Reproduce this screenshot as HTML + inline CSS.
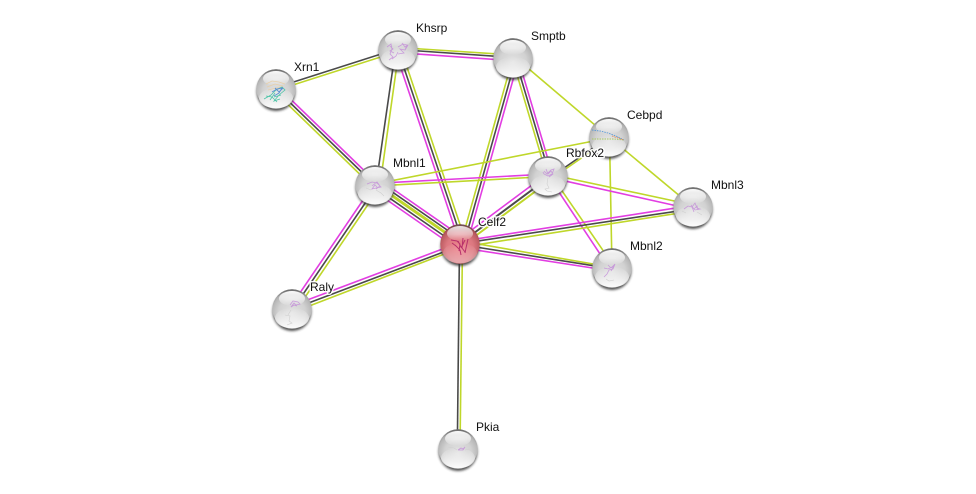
<!DOCTYPE html>
<html><head><meta charset="utf-8"><style>
html,body{margin:0;padding:0;background:#fff}
svg{display:block}
.m{stroke:#e23ee2}.k{stroke:#4a4a4a}.g{stroke:#bfd72a}
line{stroke-width:1.6;fill:none}
text{font:12px "Liberation Sans",sans-serif;fill:#111;stroke:#fff;stroke-width:3px;stroke-opacity:.9;paint-order:stroke;stroke-linejoin:round}
.s{fill:none;stroke:#c084d8;stroke-width:.8;opacity:.75}
.t{fill:none;stroke:#cfcfcf;stroke-width:.6}
</style></head><body>
<svg width="976" height="494" viewBox="0 0 976 494" xmlns="http://www.w3.org/2000/svg">
<defs>
<radialGradient id="b" cx="50%" cy="60%" r="62%"><stop offset="0" stop-color="#e2e2e2"/><stop offset=".55" stop-color="#d2d2d2"/><stop offset=".82" stop-color="#b8b8b8"/><stop offset="1" stop-color="#8a8a8a"/></radialGradient>
<radialGradient id="r" cx="50%" cy="60%" r="62%"><stop offset="0" stop-color="#ee868e"/><stop offset=".55" stop-color="#dc7880"/><stop offset=".82" stop-color="#bc5c62"/><stop offset="1" stop-color="#8c3a3e"/></radialGradient>
<linearGradient id="top" x1="0" y1="0" x2="0" y2="1"><stop offset="0" stop-color="#555" stop-opacity=".7"/><stop offset=".2" stop-color="#555" stop-opacity="0"/></linearGradient>
<linearGradient id="h" x1="0" y1="0" x2="0" y2="1"><stop offset="0" stop-color="#fff" stop-opacity=".98"/><stop offset=".55" stop-color="#fff" stop-opacity=".6"/><stop offset="1" stop-color="#fff" stop-opacity="0"/></linearGradient>
<linearGradient id="l" x1="0" y1="0" x2="0" y2="1"><stop offset="0" stop-color="#fff" stop-opacity="0"/><stop offset="1" stop-color="#fff" stop-opacity=".95"/></linearGradient>
<filter id="f" x="-30%" y="-30%" width="160%" height="160%"><feGaussianBlur stdDeviation="1.2"/></filter>
<g id="n"><circle cy="2.6" r="19.4" fill="#333" opacity=".85" filter="url(#f)"/><circle r="19.7" fill="url(#b)"/><circle r="19.7" fill="url(#top)"/><ellipse cy="9" rx="17" ry="10.2" fill="url(#l)"/><ellipse cy="-10.5" rx="13" ry="7.5" fill="url(#h)"/></g>
<g id="c"><circle cy="2.6" r="19.4" fill="#333" opacity=".85" filter="url(#f)"/><circle r="19.7" fill="url(#r)"/><circle r="19.7" fill="url(#top)"/><ellipse cy="9" rx="17" ry="10.2" fill="url(#l)" opacity=".4"/><ellipse cy="-10.5" rx="13" ry="7.5" fill="url(#h)" opacity=".85"/></g>
</defs>
<rect width="976" height="494" fill="#fff"/>
<!-- Xrn1-Khsrp -->
<line class="k" x1="275.6" y1="87.7" x2="397.6" y2="48.7"/><line class="g" x1="276.4" y1="90.3" x2="398.4" y2="51.3"/>
<!-- Xrn1-Mbnl1 -->
<line class="m" x1="278" y1="87" x2="377" y2="183"/><line class="k" x1="276" y1="89" x2="375" y2="185"/><line class="g" x1="274" y1="91" x2="373" y2="187"/>
<!-- Khsrp-Smptb -->
<line class="g" x1="398" y1="47.5" x2="513" y2="55"/><line class="k" x1="398" y1="49.5" x2="513" y2="57.5"/><line class="m" x1="398" y1="52.7" x2="513" y2="60.7"/>
<!-- Khsrp-Mbnl1 -->
<line class="k" x1="395.5" y1="50" x2="376" y2="185"/><line class="g" x1="399" y1="50" x2="380" y2="185"/>
<!-- Khsrp-Celf2 -->
<line class="m" x1="395.1" y1="51" x2="459.1" y2="241"/><line class="k" x1="398" y1="50" x2="462" y2="240"/><line class="g" x1="400.9" y1="49" x2="464.9" y2="239"/>
<!-- Smptb-Celf2 -->
<line class="g" x1="513.1" y1="57.2" x2="462.1" y2="239.2"/><line class="k" x1="516" y1="58" x2="465" y2="240"/><line class="m" x1="518.9" y1="58.8" x2="467.9" y2="240.8"/>
<!-- Smptb-Rbfox2 -->
<line class="g" x1="512.3" y1="58.8" x2="547.3" y2="176.8"/><line class="k" x1="515" y1="58" x2="550" y2="176"/><line class="m" x1="517.7" y1="57.2" x2="552.7" y2="175.2"/>
<!-- Cebpd edges -->
<line class="g" x1="516" y1="58" x2="609" y2="137"/><line class="g" x1="375" y1="184" x2="609" y2="138"/><line class="g" x1="609" y1="137" x2="693" y2="207"/><line class="g" x1="609.5" y1="137" x2="612" y2="268"/>
<!-- Rbfox2-Mbnl1 -->
<line class="m" x1="375" y1="183.4" x2="548" y2="174"/><line class="g" x1="375" y1="186" x2="548" y2="176.5"/>
<!-- Rbfox2-Mbnl3 -->
<line class="g" x1="548" y1="174" x2="693" y2="205"/><line class="m" x1="548" y1="177.2" x2="693" y2="209.5"/>
<!-- Rbfox2-Mbnl2 -->
<line class="m" x1="548" y1="175.6" x2="612" y2="272"/><line class="g" x1="548" y1="170.4" x2="612" y2="263.5"/>
<!-- Rbfox2-Cebpd -->
<line class="k" x1="548" y1="179" x2="609" y2="137"/><line class="g" x1="551" y1="179" x2="612" y2="137"/>
<!-- Rbfox2-Celf2 -->
<line class="m" x1="545.5" y1="175" x2="459.5" y2="239"/><line class="k" x1="548" y1="178" x2="462" y2="242" style="stroke-width:2"/><line class="g" x1="550" y1="180.5" x2="464" y2="244.5" style="stroke-width:2"/>
<!-- Celf2-Mbnl3 -->
<line class="m" x1="460" y1="241.4" x2="693" y2="205.3"/><line class="k" x1="460" y1="243.7" x2="693" y2="208.8"/><line class="g" x1="460" y1="247.4" x2="693" y2="210.9"/>
<!-- Celf2-Mbnl2 -->
<line class="g" x1="460" y1="240.8" x2="612" y2="267.3"/><line class="k" x1="460" y1="244.5" x2="612" y2="268.7"/><line class="m" x1="460" y1="247.6" x2="612" y2="271"/>
<!-- Celf2-Raly -->
<line class="m" x1="460" y1="242.4" x2="292" y2="305.8"/><line class="k" x1="460" y1="245.8" x2="292" y2="309.2"/><line class="g" x1="460" y1="248" x2="292" y2="312.6"/>
<!-- Mbnl1-Raly -->
<line class="m" x1="373.3" y1="185" x2="289" y2="309"/><line class="k" x1="377.5" y1="185" x2="293" y2="309"/><line class="g" x1="381.3" y1="185" x2="297" y2="309"/>
<!-- Pkia -->
<line class="k" x1="459.5" y1="244" x2="457.3" y2="449"/><line class="g" x1="462.5" y1="244" x2="460" y2="449"/>
<!-- Mbnl1-Celf2 -->
<line class="m" x1="379" y1="179.3" x2="464" y2="238.3"/><line class="k" x1="377.4" y1="181.6" x2="462.4" y2="240.6"/><line class="g" x1="375.6" y1="184.2" x2="460.6" y2="243.2" style="stroke-width:3"/><line class="k" x1="373.6" y1="187" x2="458.6" y2="246"/><line class="m" x1="371.9" y1="189.5" x2="456.9" y2="248.5"/>

<!-- Nodes -->
<use href="#n" x="276" y="89"/>
<path d="M266 84l6-3 7 1 6 2M267 87l8-3 8 2M268 90l8-2 7-1" fill="none" stroke="#e8cfa8" stroke-width=".8"/>
<path d="M264 99l7-4 5-5 6-3 3 3-6 5-5 6 6-2M270 100l5-7M266 96l6 1 5 5M274 97l7-2" fill="none" stroke="#4fc4a8" stroke-width=".8"/>
<path d="M272 92l5-3 5-1-3 5-5 3M275 88l4 4 4-4" fill="none" stroke="#5a8fd0" stroke-width=".9"/>

<use href="#n" x="398" y="50"/>
<path class="s" d="M387 47l4-3 1 5-2 5 3 3-4 3M398 47l5-3 4 1-2 5-5-1 4 4-6 1M392 59l4-3 2-4M390 46l3 3-3 2 4 2M402 43l3 4 3-2-3 5" />

<use href="#n" x="513" y="58"/>

<use href="#n" x="609" y="137"/>
<path d="M592 130l8 1 8 2 8 3 8 4" fill="none" stroke="#5a9ad8" stroke-width=".9" stroke-dasharray="1.5 1"/>
<path d="M592 139l10 0 12 0 10 1" fill="none" stroke="#a8c860" stroke-width=".9" stroke-dasharray="1.5 1"/>
<path d="M612 136l12 4" fill="none" stroke="#e08a50" stroke-width=".9" stroke-dasharray="1.5 1"/>

<use href="#n" x="548" y="176"/>
<path class="s" d="M544 171l3 3 4-4 3-1-2 5-4 2-4-2-1-2M546 169l2 5 3-3 2 3-4 3" />
<path class="t" d="M548 178l-1 6 2 4-4 1 2 2 5 1" />

<use href="#n" x="375" y="185"/>
<path class="s" d="M367 184l5-2 5 1 4 4-5 1-4 1 3-4 3 3M372 186l5-4 3 4-4 3" />
<path class="t" d="M376 190l5 3 3 3M366 188l5 2" />

<use href="#c" x="460" y="244"/>
<path d="M451 240l6 1 3 3-1 7M455 245l5 5 1 5M463 238l-1 10 3 4M468 239l-2 9 -1 5M452 243l4 3M458 241l3 6M465 240l-4 8" fill="none" stroke="#b8306a" stroke-width="1"/>

<use href="#n" x="693" y="207"/>
<path class="s" d="M684 209l4-3 4 1 3-4 2 5 3 1-5 1-3-3 2 5M691 205l3 4 3-3 1 4" />
<path class="t" d="M697 212l5 3M682 211l4 2" />

<use href="#n" x="612" y="268"/>
<path class="s" d="M604 268l4 1 4-2 3-3-2 5-4 1-2 4-3 3M608 265l3 3 3-2-3 5" />
<path class="t" d="M606 279l3 2 5-1" />

<use href="#n" x="292" y="309"/>
<path class="s" d="M290 305l3-4 5 1 2 2-4 1-2-2-3 4 3-2 3 1" />
<path class="t" d="M285 315l5 1-1 5 3 2-5 2M291 310l-3 5" />

<use href="#n" x="458" y="449"/>
<path class="t" d="M448 447l6 1 3 2M465 450l6-1" />
<path class="s" d="M458 450l3-2 2 1 2-2-2 3-3 0-2 0" />

<!-- Labels -->
<text x="294" y="71">Xrn1</text>
<text x="416" y="32">Khsrp</text>
<text x="531" y="40">Smptb</text>
<text x="627" y="119">Cebpd</text>
<text x="566" y="157">Rbfox2</text>
<text x="393" y="167">Mbnl1</text>
<text x="478" y="226">Celf2</text>
<text x="711" y="189">Mbnl3</text>
<text x="630" y="250">Mbnl2</text>
<text x="310" y="291">Raly</text>
<text x="476" y="431">Pkia</text>
</svg>
</body></html>
